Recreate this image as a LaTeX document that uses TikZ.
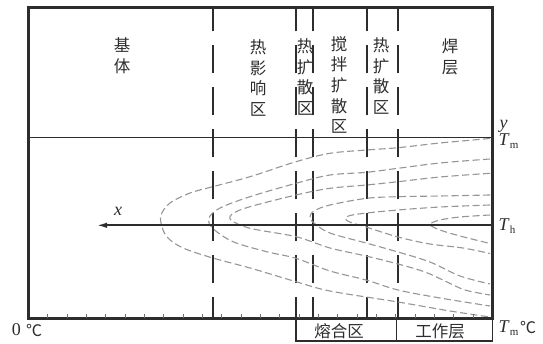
\documentclass[tikz,border=0pt]{standalone}
\usepackage{fontspec}
\setmainfont{Liberation Serif}
\newfontfamily\cjk{Noto Sans CJK SC}
\usetikzlibrary{arrows.meta}
\definecolor{ink}{RGB}{45,45,45}
\definecolor{isogray}{RGB}{150,150,150}
\newcommand{\Tsub}[1]{\textit{T}\raisebox{-3pt}{\fontsize{11}{11}\selectfont #1}}
\begin{document}
\begin{tikzpicture}[x=1pt,y=-1pt,
  zoneline/.style={draw=ink,line width=2pt,dash pattern=on 28pt off 14pt,dash phase=7pt},
  isoline/.style={draw=isogray,line width=1.1pt,dash pattern=on 7pt off 3.5pt,smooth,tension=0.55},
  zonelabel/.style={font=\cjk\fontsize{16.5}{20.6}\selectfont,text=ink,align=center,inner sep=0pt},
  latin/.style={font=\fontsize{18}{18}\selectfont,text=ink,inner sep=0pt},
  tickmark/.style={draw=ink!70,line width=0.8pt},
  thinline/.style={draw=ink,line width=1.2pt}
]
\useasboundingbox (0,0) rectangle (543,344);
\fill[white] (0,0) rectangle (543,344);

% frame corners
\coordinate (TL) at (28.5,7.5);
\coordinate (TR) at (492.5,7.5);
\coordinate (BL) at (28.5,318.5);
\coordinate (BR) at (492.5,318.5);

% zone boundaries (dashed verticals)
\foreach \xx in {212.7,296,313.3,366.5,398.3}{
  \draw[zoneline] (\xx,318.5) -- (\xx,7.5);
}

% isotherm curves
\draw[isoline] plot coordinates {(490,138.5) (440,143) (398,147.7) (366.7,150) (330,153.3) (296,161.7) (250,176.7) (212.7,186.7) (190,193) (170,203) (161,215) (162,227) (168,238) (183,248) (212.7,258) (250,268) (296,281.7) (330,291) (398,302) (450,311) (490,317)};
\draw[isoline] plot coordinates {(490,159) (440,163) (398,168.3) (366.7,172.3) (330,175) (296,183.3) (250,196.7) (220,208) (209,218) (212.7,228.3) (233,241.7) (266.7,251.7) (296,258.3) (330,271) (366,280) (398,290) (440,298) (490,306)};
\draw[isoline] plot coordinates {(490,173.3) (440,177) (398,181.7) (366.7,185) (330,188.3) (296,195) (250,206.7) (233,213.5) (231,220) (250,228.3) (296,236.7) (330,248) (366,256) (398,264) (425,272) (445,281) (465,290) (490,295)};
\draw[isoline] plot coordinates {(490,195) (440,196) (398,196.7) (366.7,198.3) (330,205) (314,211) (310,217) (314,223) (330,233) (366,243) (398,252) (430,262) (460,276) (490,284)};
\draw[isoline] plot coordinates {(490,205) (440,207) (398,210) (366.7,213) (350,215.5) (345.5,219) (351,222.5) (366,227) (398,237) (430,244) (463,248) (490,253.5)};
\draw[isoline] plot coordinates {(490,215) (460,217) (440,220) (430,224.5) (440,230) (460,236) (490,243.5)};

% frame
\draw[ink,line width=2.8pt,line join=miter] (TL) rectangle (BR);
\draw[ink,line width=3.6pt] (TL) -- (BL) -- (BR) -- (TR);

% horizontal surface line
\coordinate (yL) at (28.5,137.7);
\coordinate (yR) at (492.5,137.7);
\draw[ink,line width=1.6pt] (yL) -- (yR);

% x axis arrow
\coordinate (xTip) at (97,225.3);
\coordinate (xR) at (492.5,225.3);
\draw[ink,line width=1.6pt,-{Latex[length=10pt,width=5.5pt]}] (xR) -- (xTip);

% bottom ticks
\foreach \k in {1,...,23}{
  \draw[tickmark] (28.5+19.33*\k,318.5) -- ++(0,-4.5);
}

% bottom box
\coordinate (bA) at (296,318.5);
\coordinate (bB) at (296,341);
\coordinate (bC) at (492.5,341);
\coordinate (bD) at (396.3,318.5);
\coordinate (bE) at (396.3,341);
\draw[thinline] (bA) -- (bB) -- (bC) -- (BR);
\draw[thinline] (bD) -- (bE);

% zone labels
\node[zonelabel] (base) at (122,56) {基\\体};
\node[zonelabel] (haz) at (258,78) {热\\影\\响\\区};
\node[zonelabel] (hdz1) at (305,77) {热\\扩\\散\\区};
\node[zonelabel] (sdz) at (339,85) {搅\\拌\\扩\\散\\区};
\node[zonelabel] (hdz2) at (381,76) {热\\扩\\散\\区};
\node[zonelabel] (weld) at (450,57) {焊\\层};
\node[zonelabel] (fuse) at (339,331) {熔合区};
\node[zonelabel] (work) at (440,331) {工作层};

% axis labels
\node[latin] (xlab) at (118,211) {\textit{x}};
\node[latin] (ylab) at (503.5,126.5) {\textit{y}};
\node[latin,anchor=west] (Tm1) at (498.5,141) {\Tsub{m}};
\node[latin,anchor=west] (Th) at (498.5,226) {\Tsub{h}};
\node[latin,anchor=west] (Tm2) at (498.5,328) {\Tsub{m}};
\node[font=\cjk\fontsize{16}{16}\selectfont,text=ink,inner sep=0pt] (deg2) at (528,328) {℃};
\node[latin] (zero) at (16.5,330) {0};
\node[font=\cjk\fontsize{16}{16}\selectfont,text=ink,inner sep=0pt] (deg1) at (34,330) {℃};
\end{tikzpicture}
\end{document}
